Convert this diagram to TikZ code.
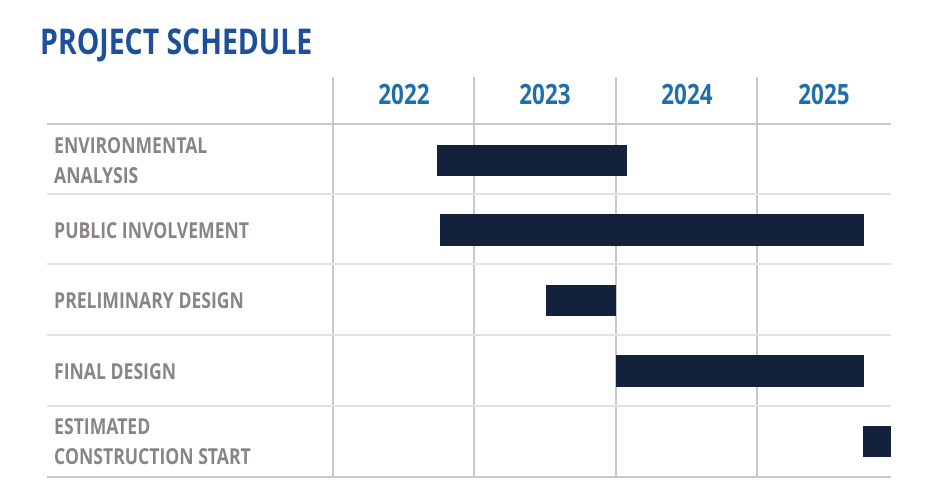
\documentclass[tikz,border=0pt]{standalone}
\usepackage{fontspec}
\setmainfont{Open Sans}[FakeStretch=0.8]
\usetikzlibrary{positioning}
\definecolor{titleblue}{RGB}{29,79,154}
\definecolor{yearblue}{RGB}{31,111,168}
\definecolor{labelgray}{RGB}{138,133,133}
\definecolor{barnavy}{RGB}{20,33,58}
\definecolor{gridgray}{RGB}{200,200,200}
\definecolor{rowgray}{RGB}{226,226,226}

\begin{document}
\begin{tikzpicture}[
        x=1pt, y=-1pt,
        title/.style={anchor=base west, inner sep=0pt, text=titleblue,
                      font=\fontsize{35.5}{35.5}\selectfont\bfseries},
        year/.style={anchor=base, inner sep=0pt, text=yearblue,
                     font=\fontsize{28}{28}\selectfont\bfseries},
        task/.style={anchor=base west, inner sep=0pt, text=labelgray,
                     font=\fontsize{22}{22}\selectfont\bfseries},
        taskbar/.style={fill=barnavy},
        gridline/.style={gridgray, line width=1.5pt},
        rowline/.style={rowgray, line width=1.5pt}
      ]
        \useasboundingbox (0,0) rectangle (930,498);
        \node[title] (head) at (40,54) {PROJECT SCHEDULE};
        % grid
        \foreach \x in {333,474,616,757}
          \draw[gridline] (\x,77) -- (\x,477);
        \draw[gridline] (47,124) -- (891,124);
        \foreach \y in {194,264,335,406}
          \draw[rowline] (47,\y) -- (891,\y);
        \draw[gridline] (47,477) -- (891,477);
        % years
        \foreach \yr/\x in {2022/404, 2023/545, 2024/687, 2025/824}
          \node[year] (y\yr) at (\x,104) {\yr};
        % tasks
        \node[task] (env) at (54,153) {ENVIRONMENTAL};
        \node[task] (envb) at (54,183) {ANALYSIS};
        \node[task] (pub) at (54,238) {PUBLIC INVOLVEMENT};
        \node[task] (pre) at (54,308) {PRELIMINARY DESIGN};
        \node[task] (fin) at (54,379) {FINAL DESIGN};
        \node[task] (est) at (54,434) {ESTIMATED};
        \node[task] (estb) at (54,464) {CONSTRUCTION START};
        % bars
        \fill[taskbar] (437,145) rectangle (627,176);
        \fill[taskbar] (440,214) rectangle (864,246);
        \fill[taskbar] (546,285) rectangle (616,316);
        \fill[taskbar] (616,355) rectangle (864,387);
        \fill[taskbar] (863,426) rectangle (891,457);
      \end{tikzpicture}
\end{document}
